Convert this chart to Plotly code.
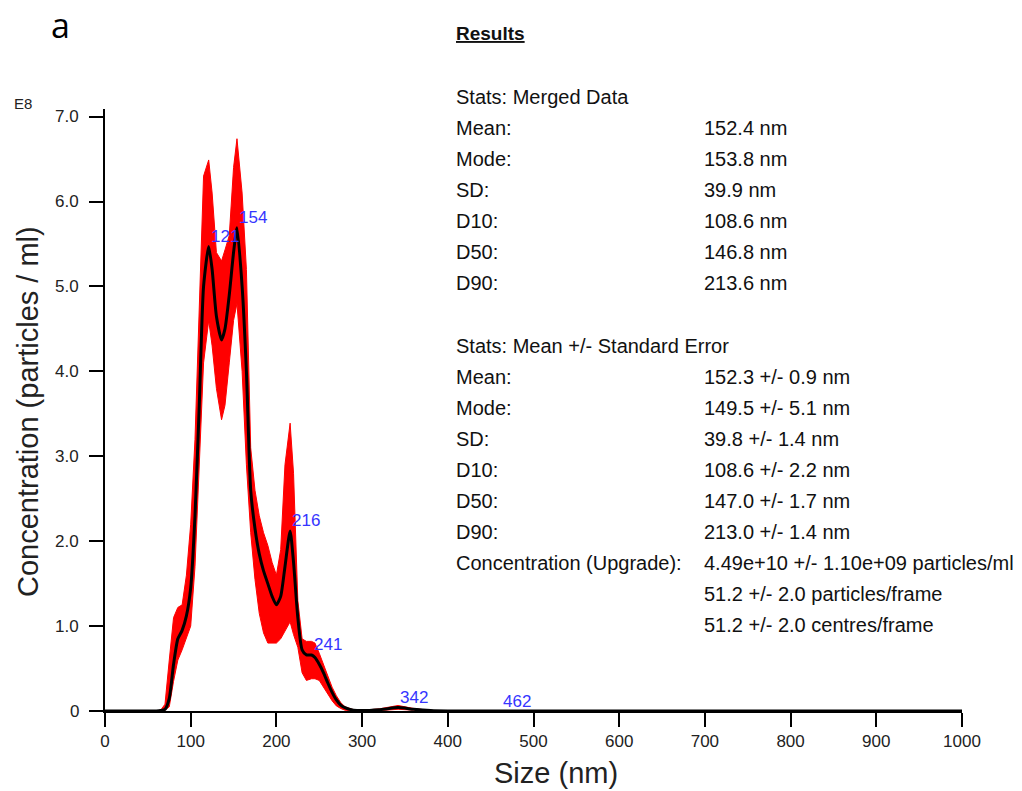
import plotly.graph_objects as go

# ---------------- data ----------------
size_nm = [0, 50, 60, 65, 70, 75, 80, 85, 90, 95, 100, 105, 110, 115, 121, 125, 130, 136,
           140, 145, 150, 154, 160, 165, 170, 175, 180, 185, 190, 195, 200, 205, 210, 216,
           220, 225, 230, 235, 241, 245, 250, 255, 260, 265, 270, 275, 280, 290, 300, 320,
           342, 360, 380, 400, 462, 500, 1000]

conc_mean = [0, 0, 0, 0.005, 0.02, 0.15, 0.55, 0.85, 0.95, 1.12, 1.45, 2.3, 3.6, 5.0, 5.47, 5.2, 4.65, 4.37,
             4.5, 4.9, 5.4, 5.69, 5.0, 4.0, 2.6, 2.15, 1.85, 1.65, 1.5, 1.35, 1.25, 1.35, 1.7, 2.12,
             1.75, 1.1, 0.72, 0.66, 0.66, 0.63, 0.55, 0.45, 0.33, 0.22, 0.13, 0.07, 0.04, 0.01, 0.005, 0.015,
             0.04, 0.02, 0.005, 0.0, 0.0, 0.0, 0.0]

conc_upper = [0, 0, 0, 0.01, 0.08, 0.6, 1.1, 1.22, 1.25, 1.6, 2.2, 3.2, 4.8, 6.3, 6.49, 6.1, 5.4, 5.3,
              5.43, 5.6, 6.4, 6.74, 6.1, 5.2, 3.1, 2.6, 2.3, 2.1, 1.95, 1.75, 1.6, 1.9, 2.9, 3.39,
              2.8, 1.3, 0.85, 0.82, 0.82, 0.8, 0.68, 0.55, 0.4, 0.28, 0.18, 0.1, 0.05, 0.015, 0.008, 0.025,
              0.065, 0.03, 0.005, 0, 0, 0, 0]

conc_lower = [0, 0, 0, 0, 0.01, 0.05, 0.35, 0.6, 0.72, 0.85, 1.0, 1.7, 2.9, 4.1, 4.6, 4.3, 3.8, 3.43,
              3.6, 4.1, 4.6, 4.8, 4.0, 2.9, 2.1, 1.55, 1.15, 0.92, 0.8, 0.8, 0.8, 0.85, 0.95, 1.05,
              0.9, 0.75, 0.45, 0.36, 0.38, 0.38, 0.36, 0.28, 0.2, 0.12, 0.06, 0.03, 0.01, 0, 0, 0.005,
              0.02, 0.01, 0, 0, 0, 0, 0]

peak_labels = [121, 154, 216, 241, 342, 462]

x_ticks = [0, 100, 200, 300, 400, 500, 600, 700, 800, 900, 1000]
y_ticks = [0, 1, 2, 3, 4, 5, 6, 7]
y_tick_text = ["0", "1.0", "2.0", "3.0", "4.0", "5.0", "6.0", "7.0"]

merged_labels = ["Mean:", "Mode:", "SD:", "D10:", "D50:", "D90:"]
merged_values = ["152.4 nm", "153.8 nm", "39.9 nm", "108.6 nm", "146.8 nm", "213.6 nm"]
se_labels = ["Mean:", "Mode:", "SD:", "D10:", "D50:", "D90:", "Concentration (Upgrade):", "", ""]
se_values = ["152.3 +/- 0.9 nm", "149.5 +/- 5.1 nm", "39.8 +/- 1.4 nm", "108.6 +/- 2.2 nm",
             "147.0 +/- 1.7 nm", "213.0 +/- 1.4 nm", "4.49e+10 +/- 1.10e+09 particles/ml",
             "51.2 +/- 2.0 particles/frame", "51.2 +/- 2.0 centres/frame"]

# ---------------- layout geometry ----------------
W, H = 1022, 791
L, R, T, B = 105, 60, 109, 80
PW, PH = W - L - R, H - T - B
FONT = "Liberation Sans, Arial, sans-serif"


def px(xp):
    return (xp - L) / PW


def py(yp):
    return (H - B - yp) / PH


fig = go.Figure()

# error band
fig.add_trace(go.Scatter(
    x=size_nm + size_nm[::-1],
    y=conc_upper + conc_lower[::-1],
    fill="toself", fillcolor="#ff0000",
    line=dict(color="#ff0000", width=1),
    mode="lines", hoverinfo="skip", showlegend=False))

# mean curve
fig.add_trace(go.Scatter(
    x=size_nm, y=conc_mean, mode="lines",
    line=dict(color="#000000", width=3, shape="spline", smoothing=0.6),
    showlegend=False))

annotations = []

# y tick labels (placed a little further from the ticks, as in the reference)
for tv, tt in zip(y_ticks, y_tick_text):
    annotations.append(dict(x=px(81), y=tv, xref="paper", yref="y", text=tt, showarrow=False,
                            xanchor="right", yanchor="middle",
                            font=dict(family=FONT, size=17, color="#222222")))

# peak labels
for pk in peak_labels:
    yv = conc_mean[size_nm.index(pk)]
    annotations.append(dict(x=pk, y=yv, xref="x", yref="y", text=str(pk), showarrow=False,
                            xanchor="left", yanchor="middle", yshift=10,
                            font=dict(family=FONT, size=17, color="#3535ff")))

# results panel
TXT = dict(family=FONT, size=20, color="#111111")
annotations.append(dict(x=px(454), y=py(34), xref="paper", yref="paper",
                        text="<b><u>Results</u></b>", showarrow=False,
                        xanchor="left", yanchor="middle", font=dict(family=FONT, size=19, color="#111111")))
annotations.append(dict(x=px(454), y=py(97), xref="paper", yref="paper", text="Stats: Merged Data",
                        showarrow=False, xanchor="left", yanchor="middle", font=TXT))
for i, (lab, val) in enumerate(zip(merged_labels, merged_values)):
    yp = 128 + 31 * i
    annotations.append(dict(x=px(454), y=py(yp), xref="paper", yref="paper", text=lab,
                            showarrow=False, xanchor="left", yanchor="middle", font=TXT))
    annotations.append(dict(x=px(702), y=py(yp), xref="paper", yref="paper", text=val,
                            showarrow=False, xanchor="left", yanchor="middle", font=TXT))
annotations.append(dict(x=px(454), y=py(346), xref="paper", yref="paper",
                        text="Stats: Mean +/- Standard Error",
                        showarrow=False, xanchor="left", yanchor="middle", font=TXT))
for i, (lab, val) in enumerate(zip(se_labels, se_values)):
    yp = 377 + 31 * i
    if lab:
        annotations.append(dict(x=px(454), y=py(yp), xref="paper", yref="paper", text=lab,
                                showarrow=False, xanchor="left", yanchor="middle", font=TXT))
    annotations.append(dict(x=px(702), y=py(yp), xref="paper", yref="paper", text=val,
                            showarrow=False, xanchor="left", yanchor="middle", font=TXT))

# panel letter and exponent
annotations.append(dict(x=px(60), y=py(0), xref="paper", yref="paper", text="a", showarrow=False,
                        xanchor="center", yanchor="top",
                        font=dict(family="Open Sans, sans-serif", size=34, color="#000000")))
annotations.append(dict(x=px(23), y=py(103), xref="paper", yref="paper", text="E8", showarrow=False,
                        xanchor="center", yanchor="middle",
                        font=dict(family=FONT, size=15, color="#222222")))

# axis titles (placed as in the reference)
annotations.append(dict(x=px(556), y=py(773), xref="paper", yref="paper", text="Size (nm)",
                        showarrow=False, xanchor="center", yanchor="middle",
                        font=dict(family=FONT, size=29, color="#222222")))
annotations.append(dict(x=px(28), y=py(412), xref="paper", yref="paper",
                        text="Concentration (particles / ml)", textangle=-90,
                        showarrow=False, xanchor="center", yanchor="middle",
                        font=dict(family=FONT, size=29, color="#222222")))

fig.update_layout(
    width=W, height=H,
    margin=dict(l=L, r=R, t=T, b=B, pad=0),
    paper_bgcolor="white", plot_bgcolor="white",
    annotations=annotations,
    showlegend=False,
    xaxis=dict(range=[0, 1000], tickvals=x_ticks, ticktext=[str(v) for v in x_ticks],
               showgrid=False, zeroline=False, showline=True, linecolor="black", linewidth=1.5,
               ticks="outside", ticklen=14, tickwidth=1.5, tickcolor="black",
               tickfont=dict(family=FONT, size=17, color="#222222")),
    yaxis=dict(range=[0, 7.09], tickvals=y_ticks, showticklabels=False,
               showgrid=False, zeroline=False, showline=True, linecolor="black", linewidth=1.5,
               ticks="outside", ticklen=14, tickwidth=1.5, tickcolor="black"),
)

fig.write_html("out.html")
